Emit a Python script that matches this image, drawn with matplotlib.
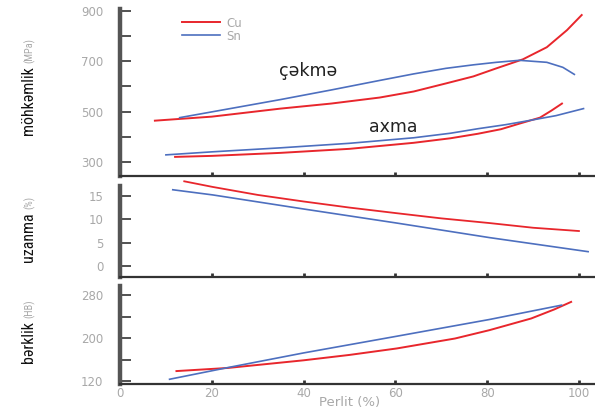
import matplotlib
matplotlib.use("Agg")
import matplotlib.pyplot as plt
from matplotlib import font_manager as fm

# ---------------- data ----------------
# Strength panel (MPa)
cu_tensile_x = [7.6, 20, 35, 46, 56.6, 64, 71, 77, 82, 87.8, 93, 97.4, 100.6]
cu_tensile_y = [464, 480, 512, 532, 556, 580, 612, 640, 672, 708, 756, 824, 884]
sn_tensile_x = [13, 24, 35, 46, 56.6, 64, 71, 77, 82, 87, 93, 96.5, 99]
sn_tensile_y = [476, 512, 548, 586, 624, 650, 672, 686, 696, 704, 696, 676, 648]
cu_yield_x = [12, 20, 35, 50, 64, 72, 78, 83, 87, 91.5, 94, 96.3]
cu_yield_y = [320, 324, 336, 352, 376, 394, 412, 430, 452, 476, 504, 532]
sn_yield_x = [10, 20, 35, 50, 64, 72, 78, 84, 89, 95, 101]
sn_yield_y = [328, 340, 356, 374, 396, 414, 432, 448, 464, 484, 512]

# Elongation panel (%)
cu_elong_x = [14, 20.2, 30, 40, 50, 60.3, 70, 80.5, 90, 100]
cu_elong_y = [18.1, 16.9, 15.2, 13.8, 12.5, 11.3, 10.2, 9.2, 8.2, 7.5]
sn_elong_x = [11.5, 20.2, 40, 60.3, 80.5, 102]
sn_elong_y = [16.3, 15.2, 12.2, 9.2, 6.1, 3.1]

# Hardness panel (HB)
cu_hard_x = [12.3, 23.5, 40, 50, 60.3, 73, 80.5, 89.6, 94.6, 98.3]
cu_hard_y = [139, 144.8, 159, 169, 181, 199.5, 215, 236.7, 253.4, 267.5]
sn_hard_x = [10.8, 23.5, 40, 60.3, 80.5, 96.2]
sn_hard_y = [123.8, 145.5, 172.7, 203.7, 234.8, 261.4]

x_ticks = [0, 20, 40, 60, 80, 100]
strength_major = [300, 500, 700, 900]
strength_minor = [400, 600, 800]
elong_ticks = [0, 5, 10, 15]
hard_major = [120, 200, 280]
hard_minor = [160, 240]

series_names = ["Cu", "Sn"]
annot_tensile = "çəkmə"
annot_yield = "axma"
ylabel_top = ("möhkəmlik", "(MPa)")
ylabel_mid = ("uzanma", "(%)")
ylabel_bot = ("bərklik", "(HB)")
xlabel = "Perlit (%)"

# ---------------- style ----------------
RED = "#e8262c"
BLUE = "#4d6fbf"
GRAY = "#a8a8a8"
SPINE = "#555555"

avail = {f.name for f in fm.fontManager.ttflist}
narrow = "Liberation Sans"
for cand in ("Liberation Sans Narrow", "DejaVu Sans Condensed", "Roboto Condensed"):
    if cand in avail:
        narrow = cand
        break
plt.rcParams["font.family"] = ["DejaVu Sans"]

fig = plt.figure(figsize=(5.95, 4.12), dpi=100)
W, H = 595.0, 412.0
left = 120 / W

def make_ax(top_px, bot_px):
    return fig.add_axes([left, 1 - bot_px / H, 1 - left, (bot_px - top_px) / H])

ax1 = make_ax(9, 176)
ax2 = make_ax(186, 277)
ax3 = make_ax(286, 384)

for ax in (ax1, ax2, ax3):
    ax.set_xlim(0, 103.5)
    for s in ("top", "right"):
        ax.spines[s].set_visible(False)
    ax.spines["left"].set_linewidth(3.2)
    ax.spines["left"].set_color(SPINE)
    ax.spines["bottom"].set_linewidth(1.6)
    ax.spines["bottom"].set_color("#333333")
    ax.set_xticks(x_ticks)
    ax.tick_params(axis="x", direction="in", length=3, width=2, color="#333333",
                   labelsize=8.5, labelcolor=GRAY, pad=2)
    ax.tick_params(axis="y", which="both", direction="in", length=8, width=1.2,
                   color="#333333", labelsize=8.5, labelcolor=GRAY, pad=12)
    ax.patch.set_alpha(0)

ax1.tick_params(axis="x", labelbottom=False)
ax2.tick_params(axis="x", labelbottom=False)

# top panel
ax1.set_ylim(244, 908)
ax1.set_yticks(strength_major)
ax1.set_yticks(strength_minor, minor=True)
l_cu, = ax1.plot(cu_tensile_x, cu_tensile_y, color=RED, lw=1.4, label=series_names[0])
l_sn, = ax1.plot(sn_tensile_x, sn_tensile_y, color=BLUE, lw=1.2, label=series_names[1])
ax1.plot(cu_yield_x, cu_yield_y, color=RED, lw=1.4)
ax1.plot(sn_yield_x, sn_yield_y, color=BLUE, lw=1.2)
ax1.text(41, 660, annot_tensile, fontsize=12.5, ha="center", va="center", color="#222222")
ax1.text(59.5, 440, annot_yield, fontsize=12.5, ha="center", va="center", color="#222222")
leg = ax1.legend(handles=[l_cu, l_sn], loc="upper left", bbox_to_anchor=(0.13, 0.955),
                 frameon=False, handlelength=3.2, fontsize=8.5, labelspacing=0.0,
                 handletextpad=0.6, borderaxespad=0.0, borderpad=0.0)
for t in leg.get_texts():
    t.set_color(GRAY)

# middle panel
ax2.set_ylim(-2.3, 17.1)
ax2.set_yticks(elong_ticks)
ax2.plot(cu_elong_x, cu_elong_y, color=RED, lw=1.3, clip_on=False)
ax2.plot(sn_elong_x, sn_elong_y, color=BLUE, lw=1.2, clip_on=False)

# bottom panel
ax3.set_ylim(115, 297)
ax3.set_yticks(hard_major)
ax3.set_yticks(hard_minor, minor=True)
ax3.plot(cu_hard_x, cu_hard_y, color=RED, lw=1.4, clip_on=False)
ax3.plot(sn_hard_x, sn_hard_y, color=BLUE, lw=1.2, clip_on=False)
ax3.set_xlabel(xlabel, fontsize=9.5, color=GRAY)
ax3.xaxis.set_label_coords(0.484, -0.125)

# y labels (two-tone: dark word + gray unit)
renderer = fig.canvas.get_renderer()

def two_tone(main, unit, x_px, main_bottom_px, gap_px=3, size=11.5):
    t = fig.text(x_px / W, 1 - main_bottom_px / H, main, rotation=90, ha="center",
                 va="bottom", fontsize=size, family=[narrow, "DejaVu Sans"], color="#111111")
    bb = t.get_window_extent(renderer=renderer)
    top_px = H - bb.y1
    fig.text(x_px / W + 0.002, 1 - (top_px - gap_px) / H, unit, rotation=90, ha="center",
             va="bottom", fontsize=7.5, family=[narrow, "DejaVu Sans"], color=GRAY)

two_tone(ylabel_top[0], ylabel_top[1], 28, 135)
two_tone(ylabel_mid[0], ylabel_mid[1], 28, 262)
two_tone(ylabel_bot[0], ylabel_bot[1], 28, 363)

fig.savefig("out.png", dpi=100)
